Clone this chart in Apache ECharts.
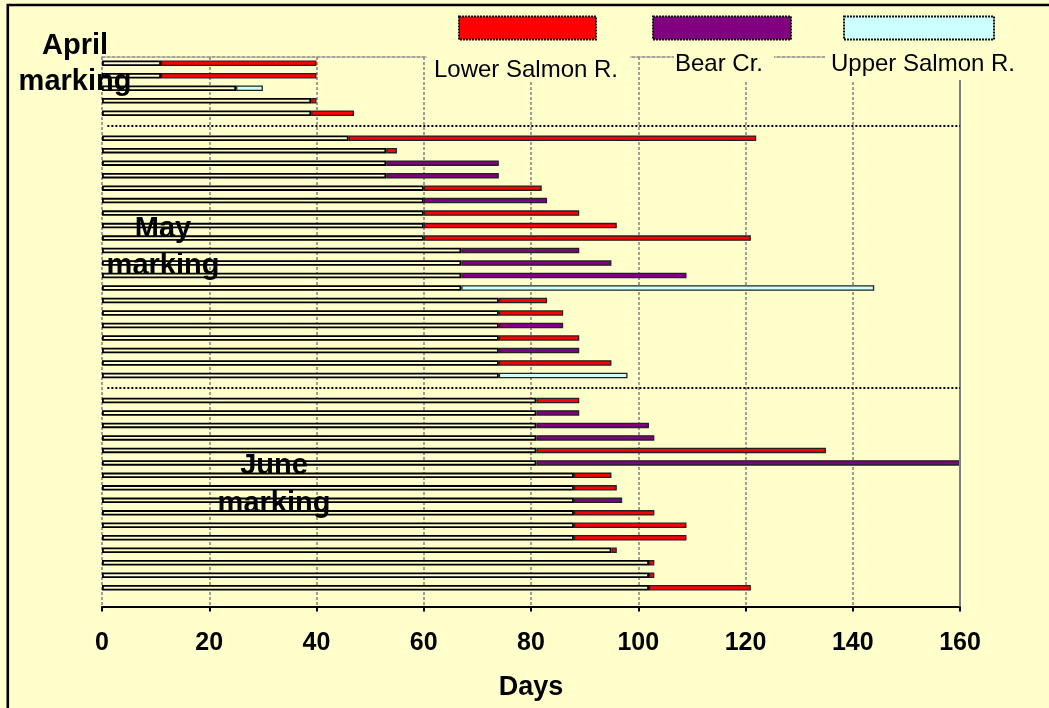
<!DOCTYPE html>
<html>
<head>
<meta charset="utf-8">
<script src="https://cdn.jsdelivr.net/npm/echarts@6/dist/echarts.min.js"></script>
<style>
html,body{margin:0;padding:0;background:#FFFFCC;}
#chart{width:1049px;height:708px;}
</style>
</head>
<body>
<div id="chart"></div>
<script>
// ---- Data ----
const categories = ['A1','A2','A3','A4','A5','gapA',
  'M1','M2','M3','M4','M5','M6','M7','M8','M9','M10','M11','M12','M13','M14','M15','M16','M17','M18','M19','M20','gapM',
  'J1','J2','J3','J4','J5','J6','J7','J8','J9','J10','J11','J12','J13','J14','J15','J16','end'];
const starts = [11, 11, 25, 39, 39, null,
  46, 53, 53, 53, 60, 60, 60, 60, 60, 67, 67, 67, 67, 74, 74, 74, 74, 74, 74, 74, null,
  81, 81, 81, 81, 81, 81, 88, 88, 88, 88, 88, 88, 95, 102, 102, 102, null];
const ends = [40, 40, 30, 40, 47, null,
  122, 55, 74, 74, 82, 83, 89, 96, 121, 89, 95, 109, 144, 83, 86, 86, 89, 89, 95, 98, null,
  89, 89, 102, 103, 135, 160, 95, 96, 97, 103, 109, 109, 96, 103, 103, 121, null];
const rivers = ['L','L','U','L','L', null,
  'L','L','B','B','L','B','L','L','L','B','B','B','U','L','L','B','L','B','L','U', null,
  'L','B','B','B','L','B','L','L','B','L','L','L','L','L','L','L', null];
const riverCodes = ['L', 'B', 'U'];
const riverNames = ['Lower Salmon R.', 'Bear Cr.', 'Upper Salmon R.'];
const riverColors = ['#FF0000', '#800080', '#CCFFFF'];
const xTicks = [0, 20, 40, 60, 80, 100, 120, 140, 160];
const groupLabels = [['April', 'marking'], ['May', 'marking'], ['June', 'marking']];
const separators = ['gapA', 'gapM'];

const FONT = "'Liberation Sans', Arial, sans-serif";
const BW = 5.5;

const series = [];
series.push({
  name: 'base', type: 'bar', stack: 'r', barWidth: BW, silent: true,
  data: starts.map(v => v == null ? '-' : v),
  itemStyle: { color: '#FFFFCC', borderColor: '#000', borderWidth: 1.8 },
  markLine: {
    silent: true, symbol: ['none', 'none'], label: { show: false },
    data: [
      { xAxis: 160, lineStyle: { color: '#808080', type: 'solid', width: 2 } },
      [{ coord: [1, separators[0]] }, { coord: [160, separators[0]] }],
      [{ coord: [1, separators[1]] }, { coord: [160, separators[1]] }]
    ],
    lineStyle: { color: '#000', type: [2, 2], width: 2 }
  }
});
riverCodes.forEach((code, k) => {
  series.push({
    name: riverNames[k], type: 'bar', stack: 'r', barWidth: BW,
    data: rivers.map((r, i) => r === code ? ends[i] - starts[i] : '-'),
    itemStyle: { color: riverColors[k], borderColor: '#222', borderWidth: 1.3 }
  });
});

const legendLeft = [458, 652, 843];
const legendW = [137, 138, 150];
const legends = riverNames.map((n, k) => ({
  data: [n], left: legendLeft[k], top: 15.5, padding: 0, itemGap: 0,
  itemWidth: legendW[k], itemHeight: 23, icon: 'rect', selectedMode: false,
  formatter: () => '',
  itemStyle: { borderColor: '#111', borderWidth: 2, borderType: [2, 1] }
}));

const graphics = [];
// cream boxes behind legend labels
[[427, 52, 203, 28], [674, 52, 100, 28], [825, 52, 220, 28]].forEach(b => {
  graphics.push({ type: 'rect', z: 100, shape: { x: b[0], y: b[1], width: b[2], height: b[3] },
    style: { fill: '#FFFFCC' } });
});
const legTextPos = [[526, 70], [719, 64.5], [923, 64.5]];
riverNames.forEach((n, k) => {
  graphics.push({ type: 'text', z: 101, x: legTextPos[k][0], y: legTextPos[k][1],
    style: { text: n, fill: '#000', font: '24px ' + FONT, textAlign: 'center', textVerticalAlign: 'middle' } });
});
const grpPos = [[75, 46, 82], [163, 229, 266], [274, 466, 504]];
groupLabels.forEach((g, k) => {
  graphics.push({ type: 'text', z: 101, x: grpPos[k][0], y: grpPos[k][1],
    style: { text: g[0], fill: '#000', font: 'bold 29px ' + FONT, textAlign: 'center', textVerticalAlign: 'middle' } });
  graphics.push({ type: 'text', z: 101, x: grpPos[k][0], y: grpPos[k][2],
    style: { text: g[1], fill: '#000', font: 'bold 29px ' + FONT, textAlign: 'center', textVerticalAlign: 'middle' } });
});
// outer frame (top and left visible)
graphics.push({ type: 'rect', z: 102, shape: { x: 7.8, y: 5, width: 1300, height: 900 },
  style: { fill: 'none', stroke: '#000', lineWidth: 2.6 } });

const chart = echarts.init(document.getElementById('chart'), null, { renderer: 'canvas' });
chart.setOption({
  backgroundColor: '#FFFFCC',
  animation: false,
  grid: { left: 102, right: 89, top: 57, bottom: 101.5, containLabel: false },
  legend: legends,
  xAxis: [{
    type: 'value', min: xTicks[0], max: xTicks[xTicks.length - 1], interval: 20, position: 'bottom',
    name: 'Days', nameLocation: 'middle', nameGap: 68,
    nameTextStyle: { fontSize: 27, fontWeight: 'bold', color: '#000', fontFamily: FONT },
    axisLine: { show: true, lineStyle: { color: '#000', width: 2 } },
    axisTick: { show: true, length: 5, lineStyle: { color: '#000', width: 2 } },
    axisLabel: { fontSize: 25, fontWeight: 'bold', color: '#000', fontFamily: FONT, margin: 24 },
    splitLine: { show: true, lineStyle: { color: '#888', type: [3, 2], width: 1.6 } }
  }, {
    type: 'value', min: xTicks[0], max: xTicks[xTicks.length - 1], interval: 20, position: 'top',
    axisLine: { show: true, lineStyle: { color: '#888', type: [3, 2], width: 1.6 } },
    axisTick: { show: false }, axisLabel: { show: false }, splitLine: { show: false }
  }],
  yAxis: {
    type: 'category', data: categories, inverse: true,
    axisLine: { show: false }, axisTick: { show: false }, axisLabel: { show: false }, splitLine: { show: false }
  },
  series: series,
  graphic: graphics
});
</script>
</body>
</html>
